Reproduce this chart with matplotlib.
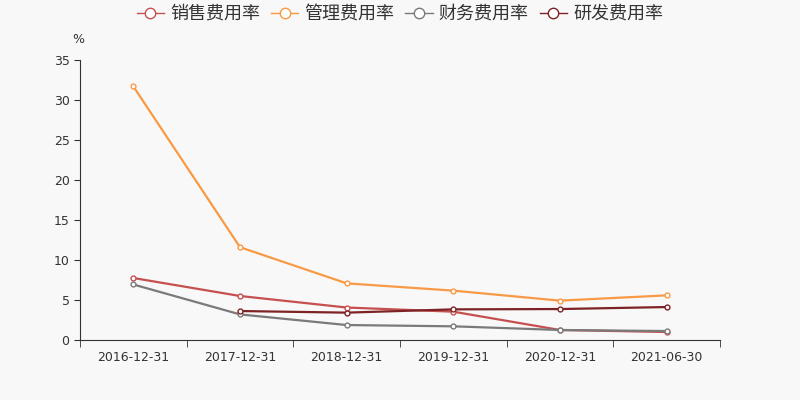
import matplotlib.pyplot as plt
import numpy as np

plt.rcParams['font.family'] = ['DejaVu Sans', 'Noto Sans CJK SC']

dates = ['2016-12-31', '2017-12-31', '2018-12-31', '2019-12-31', '2020-12-31', '2021-06-30']
sales = [7.75, 5.5, 4.06, 3.54, 1.25, 1.0]
admin = [31.7, 11.6, 7.08, 6.17, 4.92, 5.58]
finance = [6.94, 3.2, 1.87, 1.71, 1.25, 1.12]
rnd = [np.nan, 3.62, 3.42, 3.83, 3.87, 4.12]

names = ['销售费用率', '管理费用率', '财务费用率', '研发费用率']
colors = ['#c65050', '#f89a45', '#7a7a7a', '#7e2325']

bg = '#f8f8f8'
fig = plt.figure(figsize=(8, 4), dpi=100, facecolor=bg)
ax = fig.add_axes([0.1, 0.15, 0.8, 0.70], facecolor=bg)

x = np.arange(len(dates))
for vals, name, c in zip([sales, admin, finance, rnd], names, colors):
    ax.plot(x, vals, color=c, lw=1.6, marker='o', ms=3.5, mfc='white', mec=c,
            mew=1, label=name)

ax.set_xlim(-0.5, len(dates) - 0.5)
ax.set_ylim(0, 35)
ax.set_yticks(range(0, 36, 5))
ax.set_xticks(x)
ax.set_xticklabels(dates)
ax.set_xticks(np.arange(-0.5, len(dates), 1), minor=True)
ax.tick_params(axis='x', which='major', length=0, pad=8, labelsize=9, labelcolor='#333333')
ax.tick_params(axis='x', which='minor', length=5, color='#333333')
ax.tick_params(axis='y', length=4, labelsize=9, labelcolor='#333333', color='#333333')
for s in ['top', 'right']:
    ax.spines[s].set_visible(False)
for s in ['left', 'bottom']:
    ax.spines[s].set_color('#333333')
ax.text(-0.57, 37.6, '%', fontsize=9, color='#333333', ha='left', va='center')

handles, labels = ax.get_legend_handles_labels()
leg = fig.legend(handles, labels, loc='center', bbox_to_anchor=(0.5, 0.965), ncol=4,
                 frameon=False, prop={'family': ['Noto Sans CJK SC'], 'size': 13},
                 handlelength=1.5, columnspacing=0.6, handletextpad=0.35,
                 labelcolor='#333333')
for h in leg.legend_handles:
    h.set_linewidth(1.0)
    h.set_markersize(7.5)

fig.savefig('out.png', dpi=100, facecolor=bg)
